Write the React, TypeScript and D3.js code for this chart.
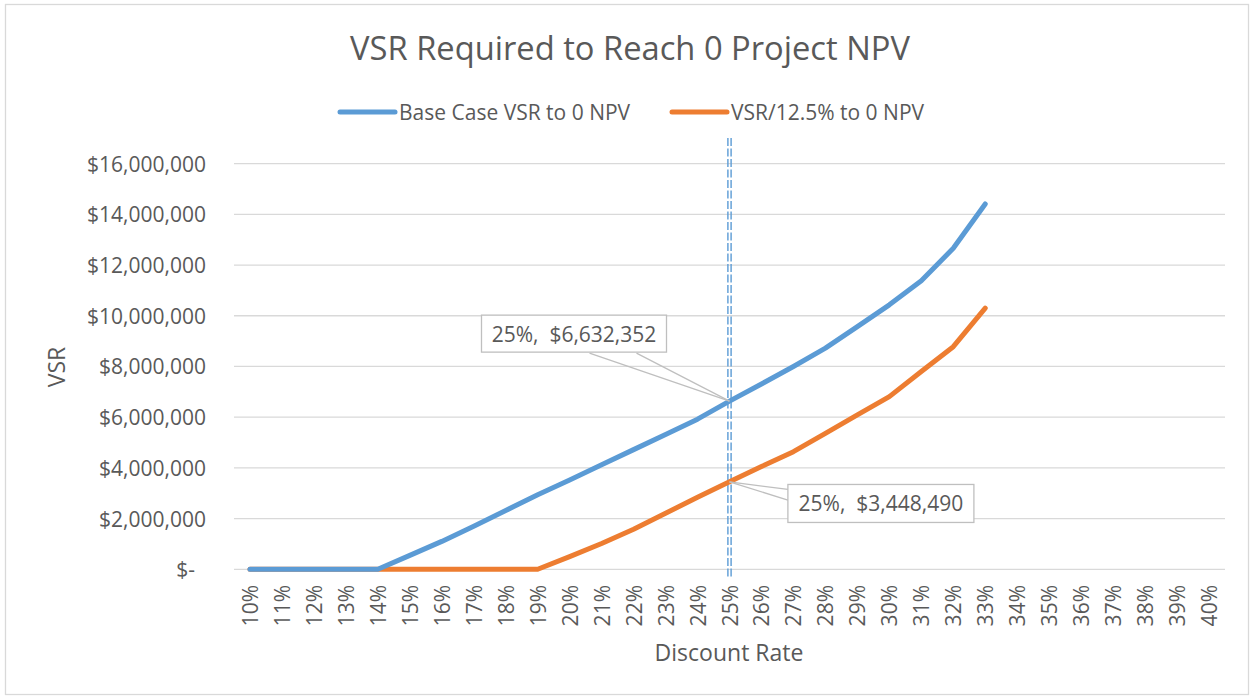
import React, { useEffect, useRef } from 'react';
import * as d3 from 'd3';

// Data
const categories = [
  '10%', '11%', '12%', '13%', '14%', '15%', '16%', '17%', '18%', '19%', '20%',
  '21%', '22%', '23%', '24%', '25%', '26%', '27%', '28%', '29%', '30%',
  '31%', '32%', '33%', '34%', '35%', '36%', '37%', '38%', '39%', '40%',
];
// values for 10% .. 33%
const baseCase = [
  0, 0, 0, 0, 0, 550000, 1100000, 1700000, 2320000, 2940000, 3520000, 4120000,
  4720000, 5320000, 5920000, 6632352, 7310000, 8000000, 8720000, 9570000,
  10430000, 11380000, 12660000, 14410000,
];
const vsr125 = [
  0, 0, 0, 0, 0, 0, 0, 0, 0, 0, 500000, 1020000, 1580000, 2210000, 2840000,
  3448490, 4050000, 4640000, 5360000, 6090000, 6810000, 7800000, 8780000, 10300000,
];
const yTicks = [0, 2000000, 4000000, 6000000, 8000000, 10000000, 12000000, 14000000, 16000000];
const seriesNames = ['Base Case VSR to 0 NPV', 'VSR/12.5% to 0 NPV'];
const markerCategory = '25%';

const BLUE = '#5B9BD5';
const ORANGE = '#ED7D31';
const TEXT = '#595959';
const GRID = '#d9d9d9';
const FONT = '"Open Sans", sans-serif';

const App = () => {
  const svgRef = useRef<SVGSVGElement>(null);

  useEffect(() => {
    const width = 1252;
    const height = 698;

    const svg = d3.select(svgRef.current)
      .attr('width', width)
      .attr('height', height)
      .style('font-family', FONT);

    svg.selectAll('*').remove();

    // chart border
    svg.append('rect')
      .attr('x', 5.5).attr('y', 4.5)
      .attr('width', 1243).attr('height', 690)
      .attr('fill', '#fff')
      .attr('stroke', GRID)
      .attr('stroke-width', 1.3);

    // Scales
    const x = d3.scaleBand()
      .domain(categories)
      .range([234, 1225]);
    const cx = (c: string) => (x(c) as number) + x.bandwidth() / 2;

    const y = d3.scaleLinear()
      .domain([0, 16000000])
      .range([569.3, 163.6]);

    // Gridlines
    svg.append('g')
      .selectAll('line')
      .data(yTicks)
      .join('line')
      .attr('x1', 234).attr('x2', 1225)
      .attr('y1', d => y(d)).attr('y2', d => y(d))
      .attr('stroke', GRID)
      .attr('stroke-width', 1.3);

    // Y labels
    const money = d3.format('$,.0f');
    svg.append('g')
      .selectAll('text')
      .data(yTicks)
      .join('text')
      .attr('x', d => (d === 0 ? 195 : 206))
      .attr('y', d => y(d))
      .attr('text-anchor', 'end')
      .attr('dominant-baseline', 'central')
      .attr('font-size', 21)
      .attr('fill', TEXT)
      .text(d => (d === 0 ? '$-' : money(d)));

    // X labels
    svg.append('g')
      .selectAll('text')
      .data(categories)
      .join('text')
      .attr('transform', d => `translate(${cx(d)},585) rotate(-90)`)
      .attr('text-anchor', 'end')
      .attr('dominant-baseline', 'central')
      .attr('font-size', 21)
      .attr('fill', TEXT)
      .text(d => d);

    // Vertical double dashed marker
    const mx = cx(markerCategory);
    [-1.6, 1.6].forEach(off => {
      svg.append('line')
        .attr('x1', mx + off).attr('x2', mx + off)
        .attr('y1', 138).attr('y2', 577)
        .attr('stroke', BLUE)
        .attr('stroke-width', 1.4)
        .attr('stroke-dasharray', '8,2.5');
    });

    // Lines
    const line = d3.line<number>()
      .x((_, i) => cx(categories[i]))
      .y(d => y(d));

    svg.append('path')
      .datum(vsr125)
      .attr('d', line)
      .attr('fill', 'none')
      .attr('stroke', ORANGE)
      .attr('stroke-width', 5)
      .attr('stroke-linecap', 'round')
      .attr('stroke-linejoin', 'round');

    svg.append('path')
      .datum(baseCase)
      .attr('d', line)
      .attr('fill', 'none')
      .attr('stroke', BLUE)
      .attr('stroke-width', 5)
      .attr('stroke-linecap', 'round')
      .attr('stroke-linejoin', 'round');

    // Callouts
    const mi = categories.indexOf(markerCategory);
    const callout = (
      value: number, bx: number, by: number, bw: number, bh: number,
      w1: [number, number], w2: [number, number],
    ) => {
      const px = mx;
      const py = y(value);
      const g = svg.append('g');
      [w1, w2].forEach(w => {
        g.append('line')
          .attr('x1', px).attr('y1', py)
          .attr('x2', px + w[0]).attr('y2', py + w[1])
          .attr('stroke', '#bfbfbf')
          .attr('stroke-width', 1.3);
      });
      g.append('rect')
        .attr('x', px + bx).attr('y', py + by)
        .attr('width', bw).attr('height', bh)
        .attr('fill', '#fff')
        .attr('stroke', '#bfbfbf')
        .attr('stroke-width', 1.3);
      g.append('text')
        .attr('x', px + bx + bw / 2)
        .attr('y', py + by + bh / 2)
        .attr('text-anchor', 'middle')
        .attr('dominant-baseline', 'central')
        .attr('font-size', 21)
        .attr('fill', TEXT)
        .attr('xml:space', 'preserve')
        .style('white-space', 'pre')
        .text(`${markerCategory},  ${money(value)}`);
    };
    callout(baseCase[mi], -248, -86, 185, 37, [-140, -48], [-93, -48]);
    callout(vsr125[mi], 58.4, 2.6, 186, 38, [58.4, 7.6], [58.4, 18.3]);

    // Title
    svg.append('text')
      .attr('x', 630).attr('y', 47)
      .attr('text-anchor', 'middle')
      .attr('dominant-baseline', 'central')
      .attr('font-size', 32.7)
      .attr('fill', TEXT)
      .text('VSR Required to Reach 0 Project NPV');

    // Legend
    const legend = [
      { name: seriesNames[0], color: BLUE, x: 340 },
      { name: seriesNames[1], color: ORANGE, x: 672 },
    ];
    const lg = svg.append('g');
    legend.forEach(l => {
      lg.append('line')
        .attr('x1', l.x).attr('x2', l.x + 55)
        .attr('y1', 112).attr('y2', 112)
        .attr('stroke', l.color)
        .attr('stroke-width', 5)
        .attr('stroke-linecap', 'round');
      lg.append('text')
        .attr('x', l.x + 59).attr('y', 112)
        .attr('dominant-baseline', 'central')
        .attr('font-size', 21)
        .attr('fill', TEXT)
        .text(l.name);
    });

    // Axis titles
    svg.append('text')
      .attr('x', 729).attr('y', 652)
      .attr('text-anchor', 'middle')
      .attr('dominant-baseline', 'central')
      .attr('font-size', 23)
      .attr('fill', TEXT)
      .text('Discount Rate');

    svg.append('text')
      .attr('transform', 'translate(56,367) rotate(-90)')
      .attr('text-anchor', 'middle')
      .attr('dominant-baseline', 'central')
      .attr('font-size', 23)
      .attr('fill', TEXT)
      .text('VSR');
  }, []);

  return (
    <div style={{ position: 'absolute', left: 0, top: 0 }}>
      <svg ref={svgRef}></svg>
    </div>
  );
};

export default App;
